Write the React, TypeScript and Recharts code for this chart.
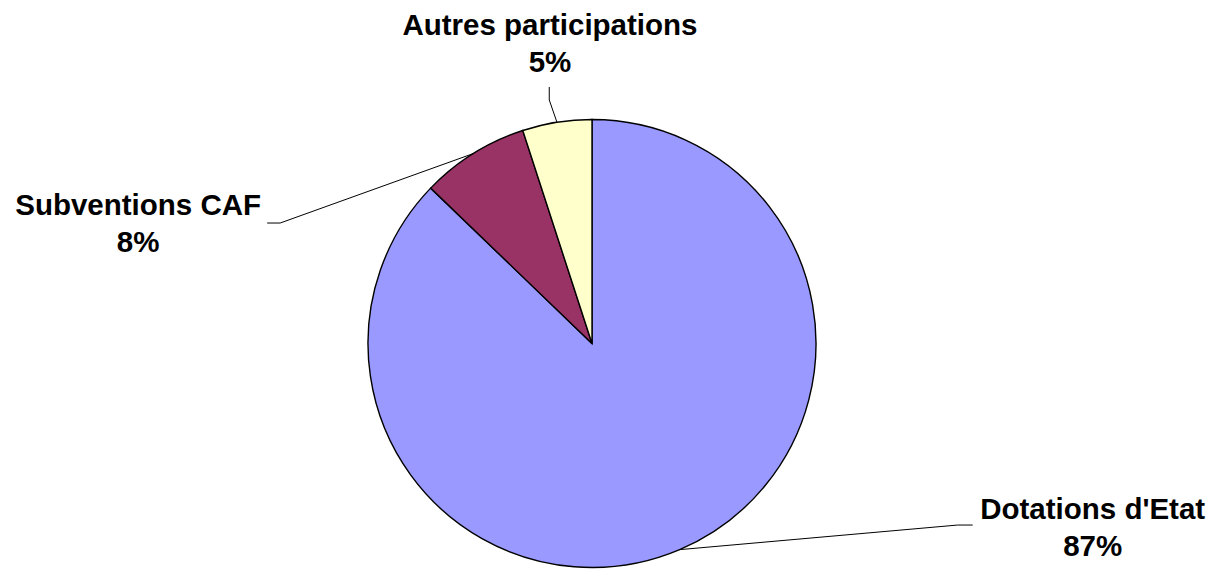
import React from "react";
import { PieChart, Pie, Cell } from "recharts";

const categories = ["Dotations d'Etat", "Subventions CAF", "Autres participations"];
const shares = [87.2, 7.8, 5.0];
const colors = ["#9999FF", "#993366", "#FFFFCC"];

const data = categories.map((name, i) => ({ name, value: shares[i] }));

// leader line + label placement, offsets from the slice's outer mid point
const leaders = [
  { elbow: [278, -24.6], tail: [293, -24.6], text: [413, -30.6] },
  { elbow: [-193, 69.4], tail: [-206, 69.4], text: [-335, 61.4] },
  { elbow: [-7.7, -22.3], tail: [-7.7, -35.3], text: [-7, -87.5] },
];

const RADIAN = Math.PI / 180;
const FONT = "'Liberation Sans', Arial, sans-serif";

function SliceLabel(props: any) {
  const { cx, cy, midAngle, outerRadius, percent, index, name } = props;
  const ex = cx + outerRadius * Math.cos(-midAngle * RADIAN);
  const ey = cy + outerRadius * Math.sin(-midAngle * RADIAN);
  const l = leaders[index];
  const bx = ex + l.elbow[0];
  const by = ey + l.elbow[1];
  const tx = ex + l.tail[0];
  const ty = ey + l.tail[1];
  const lx = ex + l.text[0];
  const ly = ey + l.text[1];
  return (
    <g>
      <polyline
        points={`${ex},${ey} ${bx},${by} ${tx},${ty}`}
        fill="none"
        stroke="#000"
        strokeWidth={1}
      />
      <text
        x={lx}
        y={ly}
        textAnchor="middle"
        fontFamily={FONT}
        fontWeight="bold"
        fontSize={29.5}
        fill="#000"
      >
        <tspan x={lx}>{name}</tspan>
        <tspan x={lx} dy={37}>{`${Math.round(percent * 100)}%`}</tspan>
      </text>
    </g>
  );
}

export default function App() {
  return (
    <div style={{ position: "fixed", left: 0, top: 0, width: 1215, height: 569, background: "#fff" }}>
      <PieChart width={1215} height={569} margin={{ top: 0, right: 0, bottom: 0, left: 0 }}>
        <Pie
          data={data}
          dataKey="value"
          nameKey="name"
          cx={592}
          cy={343.5}
          outerRadius={224}
          startAngle={90}
          endAngle={-270}
          stroke="#000"
          strokeWidth={1.4}
          label={SliceLabel}
          labelLine={false}
          isAnimationActive={false}
        >
          {data.map((d, i) => (
            <Cell key={d.name} fill={colors[i]} />
          ))}
        </Pie>
      </PieChart>
    </div>
  );
}
